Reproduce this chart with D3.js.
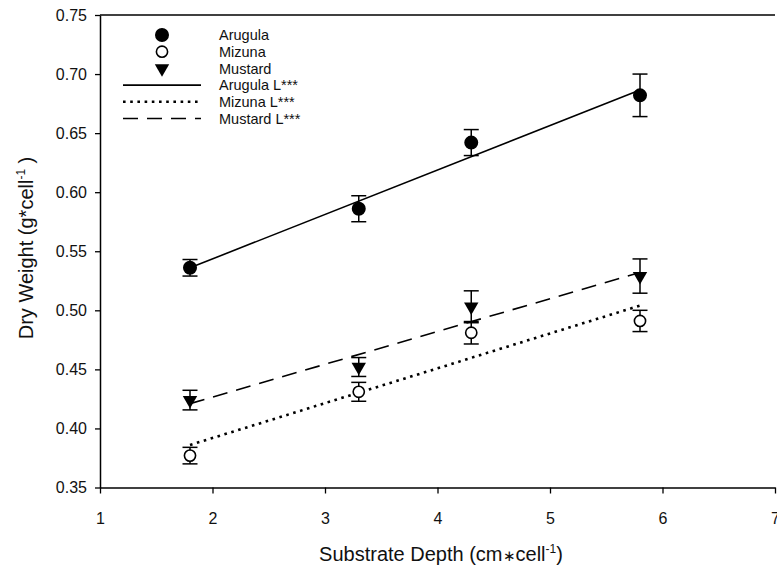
<!DOCTYPE html>
<html>
<head>
<meta charset="utf-8">
<script src="https://cdn.jsdelivr.net/npm/d3@7"></script>
<style>
    body { margin: 0; background: white; }
    svg { display: block; font-family: Arial, 'Liberation Sans', sans-serif; }
</style>
</head>
<body>
<div id="chart"></div>
<script>
// Substrate depth (x values of every series)
const depths = [1.8, 3.3, 4.3, 5.8];

// Mean dry weight and standard error for each crop
const arugulaMean = [0.536, 0.586, 0.642, 0.682];
const arugulaErr = [0.007, 0.011, 0.011, 0.018];
const mizunaMean = [0.377, 0.431, 0.481, 0.491];
const mizunaErr = [0.007, 0.008, 0.0095, 0.009];
const mustardMean = [0.424, 0.452, 0.503, 0.529];
const mustardErr = [0.0083, 0.008, 0.0135, 0.0145];

// Linear fits, read at both ends of the depth range
const fitDepths = [1.8, 5.8];
const arugulaFit = [0.536, 0.6865];
const mizunaFit = [0.386, 0.504];
const mustardFit = [0.421, 0.532];

// Axes ticks
const xTicks = [1, 2, 3, 4, 5, 6, 7];
const yTicks = [0.35, 0.40, 0.45, 0.50, 0.55, 0.60, 0.65, 0.70, 0.75];

const legendLabels = ['Arugula', 'Mizuna', 'Mustard', 'Arugula L***', 'Mizuna L***', 'Mustard L***'];

const size = { width: 777, height: 569 };
const plot = { left: 100, right: 775, top: 15, bottom: 487.5 };

const svg = d3.select('#chart')
    .append('svg')
    .attr('width', size.width)
    .attr('height', size.height);

const xScale = d3.scaleLinear().domain([1, 7]).range([plot.left, plot.right]);
const yScale = d3.scaleLinear().domain([0.35, 0.75]).range([plot.bottom, plot.top]);

// Axes
const xAxis = svg.append('g')
    .attr('transform', 'translate(0,' + plot.bottom + ')')
    .call(d3.axisBottom(xScale).tickValues(xTicks).tickFormat(d3.format('d'))
        .tickSizeInner(6).tickSizeOuter(0).tickPadding(19));
const yAxis = svg.append('g')
    .attr('transform', 'translate(' + plot.left + ',0)')
    .call(d3.axisLeft(yScale).tickValues(yTicks).tickFormat(d3.format('.2f'))
        .tickSizeInner(5).tickSizeOuter(0).tickPadding(8));
[xAxis, yAxis].forEach(function (axis) {
    axis.select('.domain').attr('stroke-width', 1.5);
    axis.selectAll('.tick line').attr('stroke-width', 1.3);
    axis.selectAll('.tick text')
        .attr('font-family', 'Arial, Liberation Sans, sans-serif')
        .attr('font-size', '16px')
        .attr('fill', '#111');
});
// top frame line
svg.append('line')
    .attr('x1', plot.left).attr('x2', plot.right)
    .attr('y1', plot.top).attr('y2', plot.top)
    .attr('stroke', 'black').attr('stroke-width', 1.5);

// Axis titles
const xTitle = svg.append('text')
    .attr('x', 441).attr('y', 561)
    .attr('text-anchor', 'middle')
    .attr('font-size', '20px')
    .attr('fill', '#111');
xTitle.append('tspan').text('Substrate Depth (cm');
xTitle.append('tspan').attr('font-size', '15px').text('\u2217');
xTitle.append('tspan').text('cell');
xTitle.append('tspan').attr('dy', -8).attr('font-size', '12px').text('-1');
xTitle.append('tspan').attr('dy', 8).text(')');

const yTitle = svg.append('text')
    .attr('transform', 'translate(33,248) rotate(-90)')
    .attr('text-anchor', 'middle')
    .attr('font-size', '20px')
    .attr('fill', '#111');
yTitle.append('tspan').text('Dry Weight (g*cell');
yTitle.append('tspan').attr('dy', -8).attr('font-size', '12px').text('-1');
yTitle.append('tspan').attr('dy', 8).text(' )');

// Series description
const series = [
    { name: 'Arugula', mean: arugulaMean, err: arugulaErr, fit: arugulaFit, symbol: 'filled', dash: null },
    { name: 'Mizuna', mean: mizunaMean, err: mizunaErr, fit: mizunaFit, symbol: 'open', dash: 'dot' },
    { name: 'Mustard', mean: mustardMean, err: mustardErr, fit: mustardFit, symbol: 'triangle', dash: 'dash' }
];

function styleLine(sel, dash) {
    sel.attr('fill', 'none').attr('stroke', 'black');
    if (dash === 'dot') {
        sel.attr('stroke-width', 2.6).attr('stroke-dasharray', '2.6,4.6');
    } else if (dash === 'dash') {
        sel.attr('stroke-width', 1.6).attr('stroke-dasharray', '15,9');
    } else {
        sel.attr('stroke-width', 1.6);
    }
}

function drawSymbol(g, type) {
    if (type === 'triangle') {
        g.append('path')
            .attr('d', d3.symbol().type(d3.symbolTriangle).size(90)())
            .attr('transform', 'rotate(180)')
            .attr('fill', 'black');
    } else {
        g.append('circle')
            .attr('r', type === 'open' ? 5.6 : 6.2)
            .attr('fill', type === 'open' ? 'white' : 'black')
            .attr('stroke', 'black')
            .attr('stroke-width', 1.6);
    }
}

const lineGen = d3.line().x(d => xScale(d[0])).y(d => yScale(d[1]));

// Regression lines
series.forEach(function (s) {
    svg.append('path')
        .datum(fitDepths.map((x, i) => [x, s.fit[i]]))
        .attr('d', lineGen)
        .call(styleLine, s.dash);
});

// Error bars and symbols
series.forEach(function (s) {
    const pts = depths.map((x, i) => ({ x: x, y: s.mean[i], e: s.err[i] }));
    const bars = svg.append('g').selectAll('g').data(pts).enter().append('g')
        .attr('stroke', 'black').attr('stroke-width', 1.5);
    bars.append('line')
        .attr('x1', d => xScale(d.x)).attr('x2', d => xScale(d.x))
        .attr('y1', d => yScale(d.y + d.e)).attr('y2', d => yScale(d.y - d.e));
    [1, -1].forEach(function (sign) {
        bars.append('line')
            .attr('x1', d => xScale(d.x) - 7.5).attr('x2', d => xScale(d.x) + 7.5)
            .attr('y1', d => yScale(d.y + sign * d.e)).attr('y2', d => yScale(d.y + sign * d.e));
    });
    svg.append('g').selectAll('g').data(pts).enter().append('g')
        .attr('transform', d => 'translate(' + xScale(d.x) + ',' + yScale(d.y) + ')')
        .each(function () { drawSymbol(d3.select(this), s.symbol); });
});

// Legend
const legend = svg.append('g').attr('class', 'legend');
const rowY = d3.scalePoint().domain(legendLabels).range([35, 118.5]);
legendLabels.forEach(function (label, i) {
    const y = rowY(label);
    const s = series[i % 3];
    if (i < 3) {
        drawSymbol(legend.append('g').attr('transform', 'translate(162,' + y + ')'), s.symbol);
    } else {
        legend.append('line')
            .attr('x1', 123).attr('x2', 201)
            .attr('y1', y).attr('y2', y)
            .call(styleLine, s.dash);
    }
    legend.append('text')
        .attr('x', 219).attr('y', y)
        .attr('dy', '0.36em')
        .attr('font-size', '14.5px')
        .attr('fill', '#111')
        .text(label);
});
</script>
</body>
</html>
